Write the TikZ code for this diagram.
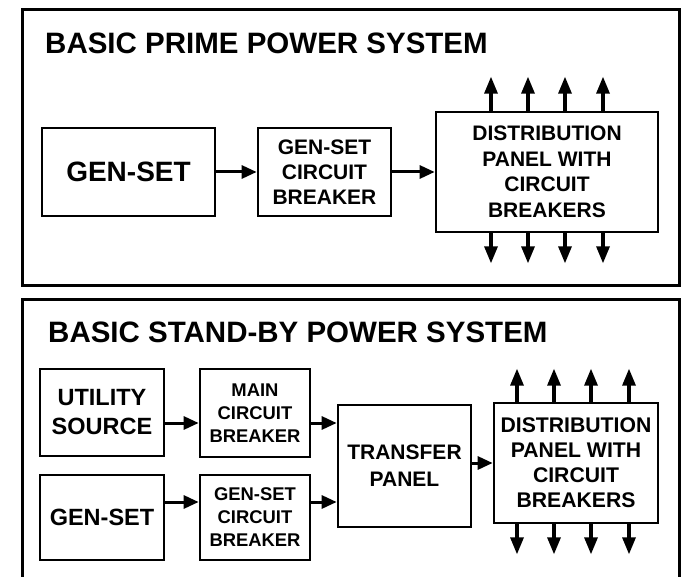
\documentclass[tikz,border=0pt]{standalone}
\usepackage{fontspec}
\setmainfont{Liberation Sans}
\usetikzlibrary{calc,arrows.meta}

\begin{document}
\begin{tikzpicture}[x=1pt,y=-1pt,
    frame/.style={draw, line width=3pt},
    box/.style={draw, line width=2.7pt, inner sep=0pt, align=center},
    arr/.style={line width=3pt, -{Triangle[length=15pt,width=13pt]}},
    feed/.style={line width=3.2pt, -{Triangle[length=17pt,width=13pt]}},
    title/.style={anchor=west, inner sep=0pt, font=\bfseries\fontsize{29.5}{34}\selectfont}]
    \useasboundingbox (0,0) rectangle (682,577);

    %----------------------------------------
    % PRIME POWER SYSTEM (upper frame)
    %----------------------------------------
    \draw[frame] (22,10) rectangle (679,285);
    \node[title] (title1) at (45,43) {BASIC PRIME POWER SYSTEM};

    \node[box, minimum width=173, minimum height=88,
          font=\bfseries\fontsize{28}{33}\selectfont] (gen1) at (128.5,172) {GEN-SET};
    \node[box, minimum width=133, minimum height=88,
          font=\bfseries\fontsize{21}{25}\selectfont] (brk1) at (324.5,172) {GEN-SET\\CIRCUIT\\BREAKER};
    \node[box, minimum width=222, minimum height=120,
          font=\bfseries\fontsize{21}{25.5}\selectfont] (dist1) at (547,172) {DISTRIBUTION\\PANEL WITH\\CIRCUIT\\BREAKERS};

    \draw[arr] (gen1) -- (brk1);
    \draw[arr] (brk1) -- (dist1);

    % outgoing feeders
    \foreach \dx in {-56,-19,18,56} {
      \draw[feed] ($(dist1.north)+(\dx,0)$) -- ++(0,-34);
      \draw[feed] ($(dist1.south)+(\dx,0)$) -- ++(0,30);
    }

    %----------------------------------------
    % STAND-BY POWER SYSTEM (lower frame)
    %----------------------------------------
    \draw[frame] (22,577) -- (22,299.5) -- (679,299.5) -- (679,577);
    \node[title] (title2) at (48,332) {BASIC STAND-BY POWER SYSTEM};

    \node[box, minimum width=124, minimum height=87,
          font=\bfseries\fontsize{23.5}{29}\selectfont] (util) at (102,412.5) {UTILITY\\SOURCE};
    \node[box, minimum width=110, minimum height=88,
          font=\bfseries\fontsize{18.4}{23}\selectfont] (brk2) at (255,413) {MAIN\\CIRCUIT\\BREAKER};
    \node[box, minimum width=124, minimum height=85,
          font=\bfseries\fontsize{23.5}{29}\selectfont] (gen2) at (102,517.5) {GEN-SET};
    \node[box, minimum width=110, minimum height=85,
          font=\bfseries\fontsize{18.4}{23}\selectfont] (brk3) at (255,517.5) {GEN-SET\\CIRCUIT\\BREAKER};
    \node[box, minimum width=133, minimum height=122,
          font=\bfseries\fontsize{21}{27}\selectfont] (xfer) at (404.5,466) {TRANSFER\\PANEL};
    \node[box, minimum width=164, minimum height=120,
          font=\bfseries\fontsize{21.2}{25}\selectfont] (dist2) at (576,463) {DISTRIBUTION\\PANEL WITH\\CIRCUIT\\BREAKERS};

    % feeder levels
    \coordinate (upper) at (0,423);
    \coordinate (lower) at (0,502);
    \coordinate (mid) at (0,463);

    \draw[arr] (util.east |- upper) -- (brk2.west |- upper);
    \draw[arr] (gen2.east |- lower) -- (brk3.west |- lower);
    \draw[arr] (brk2.east |- upper) -- (xfer.west |- upper);
    \draw[arr] (brk3.east |- lower) -- (xfer.west |- lower);
    \draw[arr] (xfer.east |- mid) -- (dist2.west |- mid);

    % outgoing feeders
    \foreach \dx in {-59,-22,15,53} {
      \draw[feed] ($(dist2.north)+(\dx,0)$) -- ++(0,-33);
      \draw[feed] ($(dist2.south)+(\dx,0)$) -- ++(0,30);
    }
\end{tikzpicture}
\end{document}
